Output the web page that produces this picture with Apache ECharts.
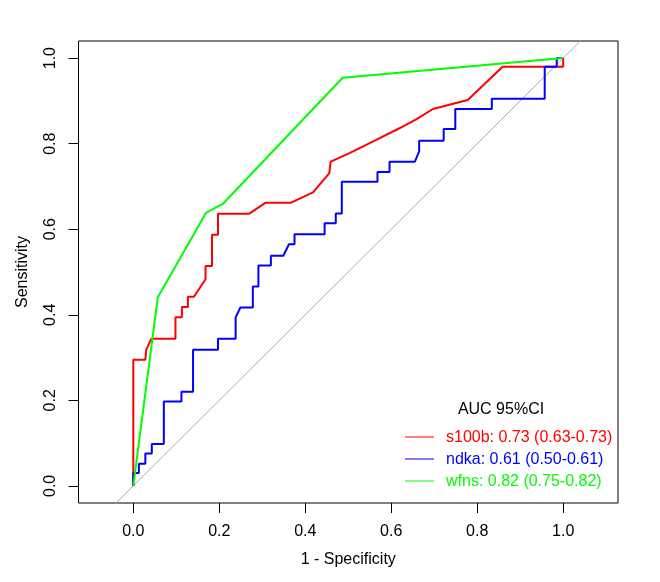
<!DOCTYPE html>
<html>
<head>
<meta charset="utf-8">
<script src="https://cdn.jsdelivr.net/npm/echarts@6/dist/echarts.min.js"></script>
<style>
html,body{margin:0;padding:0;background:#fff;}
#chart{width:660px;height:582px;}
</style>
</head>
<body>
<div id="chart"></div>
<script>
// ---- data (1 - specificity, sensitivity) ----
const s100bFpr = [0,0,0.028,0.030,0.042,0.098,0.098,0.113,0.113,0.127,0.127,0.141,0.168,0.168,0.183,0.183,0.197,0.197,0.269,0.308,0.367,0.418,0.456,0.459,0.503,0.565,0.619,0.658,0.697,0.778,0.859,1.0,1.0];
const s100bTpr = [0,0.295,0.295,0.318,0.344,0.344,0.394,0.394,0.418,0.418,0.442,0.442,0.483,0.514,0.514,0.587,0.587,0.636,0.636,0.662,0.662,0.686,0.731,0.758,0.778,0.809,0.836,0.857,0.881,0.902,0.980,0.980,1.0];

const ndkaFpr = [0,0,0.013,0.013,0.028,0.028,0.043,0.043,0.071,0.071,0.112,0.112,0.139,0.139,0.197,0.197,0.238,0.238,0.249,0.278,0.278,0.291,0.291,0.320,0.320,0.349,0.362,0.375,0.375,0.445,0.445,0.471,0.471,0.485,0.485,0.568,0.568,0.596,0.596,0.655,0.665,0.665,0.722,0.722,0.749,0.749,0.834,0.834,0.957,0.957,0.985,0.985,1.0];
const ndkaTpr = [0,0.030,0.030,0.052,0.052,0.076,0.076,0.098,0.098,0.197,0.197,0.220,0.220,0.318,0.318,0.344,0.344,0.394,0.417,0.417,0.466,0.466,0.515,0.515,0.538,0.538,0.565,0.565,0.588,0.588,0.614,0.614,0.637,0.637,0.711,0.711,0.734,0.734,0.758,0.758,0.782,0.807,0.807,0.834,0.834,0.881,0.881,0.905,0.905,0.980,0.980,1.0,1.0];

const wfnsFpr = [0,0.057,0.169,0.208,0.487,1.0];
const wfnsTpr = [0,0.441,0.638,0.659,0.954,1.0];

const identityLine = [-0.2, 1.2];
const tickValues = [0,0.2,0.4,0.6,0.8,1.0];

const legendTitle = 'AUC 95%CI';
const legendLabels = ['s100b: 0.73 (0.63-0.73)','ndka: 0.61 (0.50-0.61)','wfns: 0.82 (0.75-0.82)'];
const seriesNames = ['s100b','ndka','wfns'];
const seriesColors = ['#FF0000','#0000FF','#00FF00'];

function zip(xs, ys){ return xs.map((x,i)=>[x, ys[i]]); }

const FONT = 'Liberation Sans, Arial, sans-serif';
const chart = echarts.init(document.getElementById('chart'), null, {renderer:'canvas'});

const curves = [zip(s100bFpr,s100bTpr), zip(ndkaFpr,ndkaTpr), zip(wfnsFpr,wfnsTpr)];

const series = [{
  type:'line', name:'identity', data: identityLine.map(v=>[v,v]),
  showSymbol:false, silent:true, clip:true,
  lineStyle:{color:'#A9A9A9', width:1}, z:1
}].concat(curves.map((d,i)=>({
  type:'line', name:seriesNames[i], data:d, showSymbol:false, clip:true,
  lineStyle:{color:seriesColors[i], width:2}, itemStyle:{color:seriesColors[i]}, z:2+i
})));

const legendRowsY = [437, 459, 481];
const graphic = [{
  type:'text', x:501, y:410,
  style:{text:legendTitle, font:'16px '+FONT, fill:'#000', textAlign:'center', textVerticalAlign:'middle'}
}];
legendLabels.forEach((lab,i)=>{
  graphic.push({type:'line', shape:{x1:405, y1:legendRowsY[i], x2:434, y2:legendRowsY[i]},
    style:{stroke:seriesColors[i], lineWidth:1}});
  graphic.push({type:'text', x:446, y:legendRowsY[i]+1,
    style:{text:lab, font:'16px '+FONT, fill:seriesColors[i], textAlign:'left', textVerticalAlign:'middle'}});
});

chart.setOption({
  animation:false,
  backgroundColor:'#fff',
  grid:{left:78.5, right:42, top:41, bottom:79, show:true, borderColor:'#000', borderWidth:1, containLabel:false},
  xAxis:{
    type:'value', min:-0.1275, max:1.1275,
    name:'1 - Specificity', nameLocation:'middle', nameGap:49,
    nameTextStyle:{fontFamily:FONT, fontSize:16, color:'#000'},
    axisLine:{show:false, onZero:false},
    splitLine:{show:false},
    axisTick:{show:true, length:10, lineStyle:{color:'#000'}, customValues:tickValues},
    axisLabel:{show:true, customValues:tickValues, margin:21, fontFamily:FONT, fontSize:16, color:'#000',
      formatter:v=>v.toFixed(1)}
  },
  yAxis:{
    type:'value', min:-0.04, max:1.04,
    name:'Sensitivity', nameLocation:'middle', nameGap:48,
    nameTextStyle:{fontFamily:FONT, fontSize:16, color:'#000'},
    axisLine:{show:false, onZero:false},
    splitLine:{show:false},
    axisTick:{show:true, length:10, lineStyle:{color:'#000'}, customValues:tickValues},
    axisLabel:{show:true, rotate:90, customValues:tickValues, margin:20, fontFamily:FONT, fontSize:16, color:'#000',
      formatter:v=>v.toFixed(1)}
  },
  series:series,
  graphic:graphic
});
</script>
</body>
</html>
